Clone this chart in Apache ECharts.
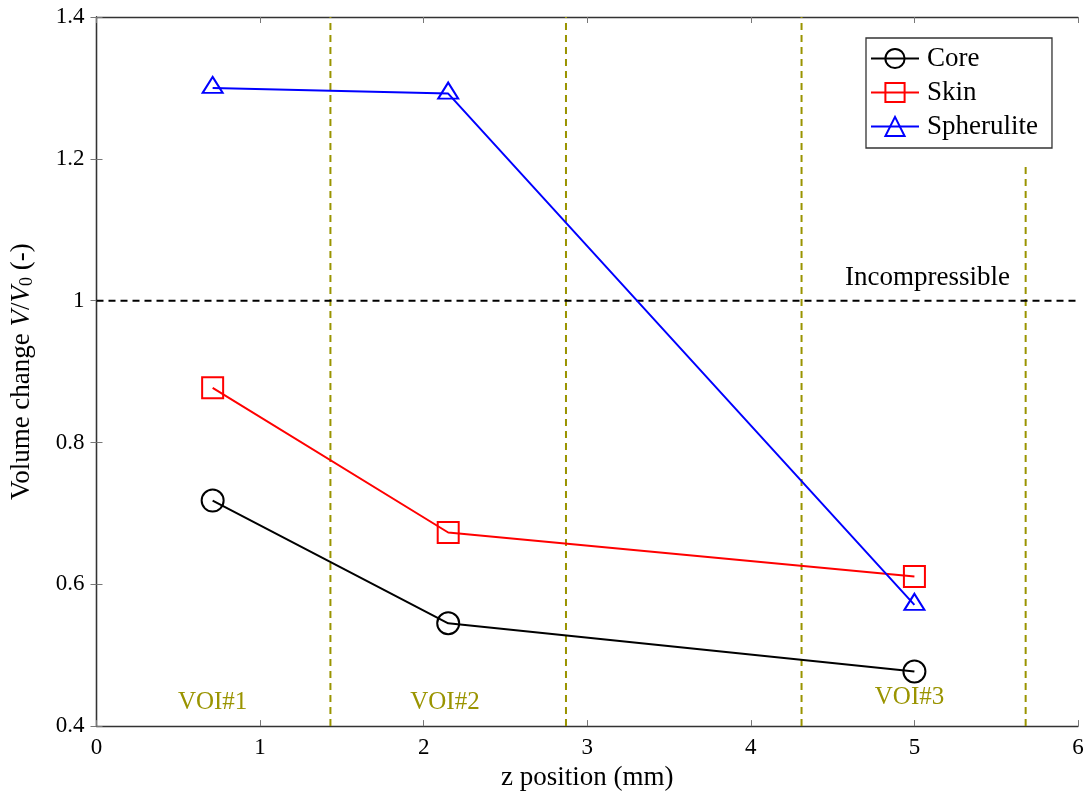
<!DOCTYPE html>
<html>
<head>
<meta charset="utf-8">
<script src="https://cdn.jsdelivr.net/npm/echarts@6/dist/echarts.min.js"></script>
<style>
html,body{margin:0;padding:0;background:#fff;}
#c{width:1088px;height:796px;}
</style>
</head>
<body>
<div id="c"></div>
<script>
// ---- data ----
var zPos = [0.71, 2.15, 5.0];
var coreVals = [0.718, 0.545, 0.477];
var skinVals = [0.877, 0.673, 0.611];
var spherVals = [1.300, 1.292, 0.571];
var voiBoundX = [1.43, 2.87, 4.31, 5.68];
var voiBoundTop = [1.4, 1.4, 1.4, 1.19];
var voiLabels = ['VOI#1', 'VOI#2', 'VOI#3'];
var voiLabelX = [0.71, 2.13, 4.97];
var voiLabelY = [0.434, 0.434, 0.44];
var incompY = 1.0;
var xTicks = [0, 1, 2, 3, 4, 5, 6];
var yTicks = [0.4, 0.6, 0.8, 1.0, 1.2, 1.4];

var FONT = 'Liberation Serif';
var OLIVE = '#9a9400';
var FS = 23;   // tick labels
var FT = 27;   // other text

function pairs(xs, ys) { return xs.map(function (x, i) { return [x, ys[i]]; }); }

var series = [];
// VOI boundary lines
voiBoundX.forEach(function (x, i) {
  series.push({
    type: 'line', data: [[x, 0.4], [x, voiBoundTop[i]]], symbol: 'none',
    lineStyle: { color: OLIVE, width: 2, type: [7, 5] }, silent: true, z: 1
  });
});
// incompressible line
series.push({
  type: 'line', data: [[0, incompY], [6, incompY]], symbol: 'none',
  lineStyle: { color: '#000', width: 2, type: [7, 5] }, silent: true, z: 1
});
// labels
series.push({
  type: 'scatter', symbolSize: 0, silent: true, itemStyle: { opacity: 1 },
  data: [[5.08, 1.032]],
  label: { show: true, position: 'inside', formatter: 'Incompressible', color: '#000', opacity: 1, fontFamily: FONT, fontSize: FT }
});
series.push({
  type: 'scatter', symbolSize: 0, silent: true, itemStyle: { opacity: 1 },
  data: voiLabelX.map(function (x, i) { return { value: [x, voiLabelY[i]], name: voiLabels[i] }; }),
  label: { show: true, position: 'inside', formatter: '{b}', color: OLIVE, opacity: 1, fontFamily: FONT, fontSize: 25 }
});

function mainSeries(name, vals, color, symbol, size, offset) {
  return {
    name: name, type: 'line', data: pairs(zPos, vals),
    symbol: symbol, symbolSize: size, symbolOffset: offset || [0, 0],
    lineStyle: { color: color, width: 2 },
    itemStyle: { color: 'rgba(0,0,0,0)', borderColor: color, borderWidth: 2 },
    z: 3
  };
}
series.push(mainSeries('Core', coreVals, '#000', 'circle', 22));
series.push(mainSeries('Skin', skinVals, '#ff0000', 'rect', 21));
series.push(mainSeries('Spherulite', spherVals, '#0000ff', 'triangle', [20, 16], [0, -3]));

var option = {
  animation: false,
  backgroundColor: '#fff',
  grid: { left: 96, right: 10, top: 17, bottom: 67, containLabel: false },
  legend: {
    data: ['Core', 'Skin', 'Spherulite'],
    orient: 'vertical', left: 866, top: 38,
    padding: [7, 14, 8, 4], itemGap: 7,
    itemWidth: 48, itemHeight: 24,
    borderColor: '#333', borderWidth: 1.3, backgroundColor: '#fff',
    textStyle: { fontFamily: FONT, fontSize: FT, color: '#000', lineHeight: 27, padding: [0, 0, 0, 3] }
  },
  xAxis: [{
    type: 'value', min: 0, max: 6, interval: 1,
    name: 'z position (mm)', nameLocation: 'middle', nameGap: 37,
    nameTextStyle: { fontFamily: FONT, fontSize: FT, color: '#000' },
    axisLine: { onZero: false, lineStyle: { color: '#333', width: 1.3 } },
    axisTick: { inside: true, length: 6, lineStyle: { color: '#777' } },
    axisLabel: { fontFamily: FONT, fontSize: FS, color: '#000', margin: 10 },
    splitLine: { show: false }
  }, {
    type: 'value', min: 0, max: 6, interval: 1, position: 'top',
    axisLine: { show: true, lineStyle: { color: '#333', width: 1.3 } },
    axisTick: { inside: true, length: 6, lineStyle: { color: '#777' } },
    axisLabel: { show: false }, splitLine: { show: false }
  }],
  yAxis: [{
    type: 'value', min: 0.4, max: 1.4, interval: 0.2,
    name: '{t|Volume change }{i|V}{t|/}{i|V}{s|0}{t| (-)}',
    nameLocation: 'middle', nameGap: 60, nameRotate: 90,
    nameTextStyle: {
      fontFamily: FONT, fontSize: FT, color: '#000',
      rich: {
        t: { fontFamily: FONT, fontSize: FT, color: '#000' },
        i: { fontFamily: FONT, fontSize: FT, fontStyle: 'italic', color: '#000' },
        s: { fontFamily: FONT, fontSize: 18, color: '#000', padding: [12, 0, 0, 0] }
      }
    },
    axisLine: { show: true, onZero: false, lineStyle: { color: '#333', width: 1.3 } },
    axisTick: { inside: true, length: 6, lineStyle: { color: '#777' } },
    axisLabel: { fontFamily: FONT, fontSize: FS, color: '#000', margin: 12 },
    splitLine: { show: false }
  }, {
    type: 'value', min: 0.4, max: 1.4, interval: 0.2, position: 'right',
    axisLine: { show: true, lineStyle: { color: '#333', width: 1.3 } },
    axisTick: { inside: true, length: 6, lineStyle: { color: '#777' } },
    axisLabel: { show: false }, splitLine: { show: false }
  }],
  series: series
};

var chart = echarts.init(document.getElementById('c'), null, { renderer: 'canvas' });
chart.setOption(option);
</script>
</body>
</html>
